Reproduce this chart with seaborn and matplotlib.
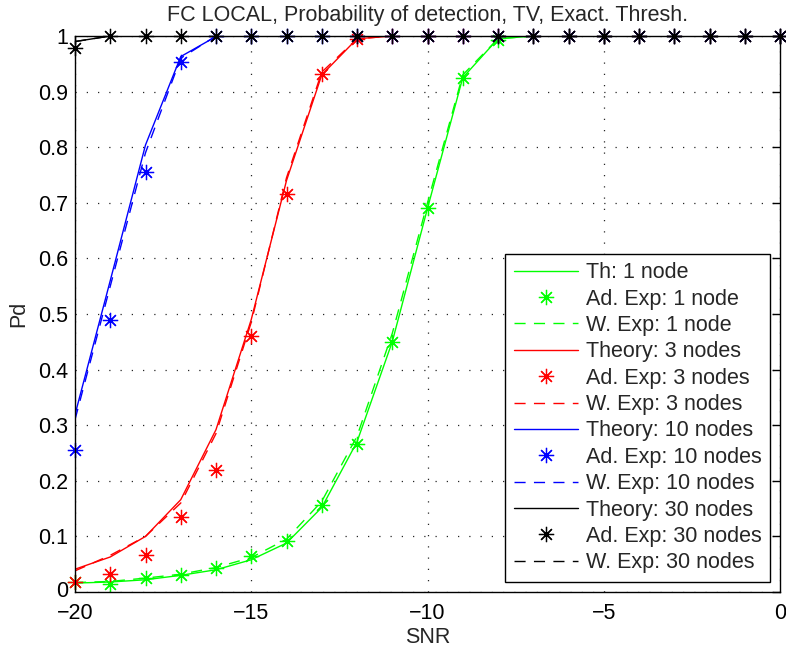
import matplotlib
matplotlib.use("Agg")
import matplotlib.pyplot as plt
import matplotlib.transforms as mtransforms
import seaborn as sns
import pandas as pd

snr = list(range(-20, 1))

th_1 = [0.016, 0.018, 0.022, 0.030, 0.040, 0.058, 0.088, 0.152, 0.270, 0.450, 0.690, 0.925, 0.995] + [1.0] * 8
ad_1 = [0.018, 0.015, 0.026, 0.031, 0.043, 0.065, 0.091, 0.156, 0.266, 0.449, 0.690, 0.925, 0.993] + [1.0] * 8
w_1 = [0.017, 0.019, 0.025, 0.032, 0.044, 0.062, 0.095, 0.163, 0.280, 0.465, 0.700, 0.930, 0.995] + [1.0] * 8

th_3 = [0.041, 0.063, 0.100, 0.166, 0.292, 0.490, 0.740, 0.930, 0.995] + [1.0] * 12
ad_3 = [0.018, 0.032, 0.066, 0.135, 0.219, 0.461, 0.716, 0.932, 0.995] + [1.0] * 12
w_3 = [0.038, 0.066, 0.100, 0.160, 0.285, 0.485, 0.745, 0.935, 0.995] + [1.0] * 12

th_10 = [0.319, 0.560, 0.804, 0.963, 0.999] + [1.0] * 16
ad_10 = [0.256, 0.489, 0.756, 0.954, 1.0] + [1.0] * 16
w_10 = [0.310, 0.550, 0.790, 0.960, 1.0] + [1.0] * 16

th_30 = [0.990] + [1.0] * 20
ad_30 = [0.978] + [1.0] * 20
w_30 = [0.990] + [1.0] * 20

groups = [
    ("Th: 1 node", "Ad. Exp: 1 node", "W. Exp: 1 node", th_1, ad_1, w_1, (0, 1, 0)),
    ("Theory: 3 nodes", "Ad. Exp: 3 nodes", "W. Exp: 3 nodes", th_3, ad_3, w_3, (1, 0, 0)),
    ("Theory: 10 nodes", "Ad. Exp: 10 nodes", "W. Exp: 10 nodes", th_10, ad_10, w_10, (0, 0, 1)),
    ("Theory: 30 nodes", "Ad. Exp: 30 nodes", "W. Exp: 30 nodes", th_30, ad_30, w_30, (0, 0, 0)),
]

sns.set_theme(style="white")
plt.rcParams["font.family"] = ["Liberation Sans", "DejaVu Sans"]
plt.rcParams["font.size"] = 15.5

fig = plt.figure(figsize=(7.86, 6.51), dpi=100)
ax = fig.add_axes([75 / 786, 1 - 592 / 651, 705 / 786, 556 / 651])

star = (8, 2, 0)
for lt, la, lw_, th, ad, w, col in groups:
    df = pd.DataFrame({"SNR": snr, "th": th, "ad": ad, "w": w})
    sns.lineplot(data=df, x="SNR", y="th", ax=ax, color=col, lw=1.0, label=lt,
                 estimator=None, sort=False)
    sns.lineplot(data=df, x="SNR", y="ad", ax=ax, color=col, linestyle="none",
                 marker=star, markersize=11, markeredgewidth=0.9,
                 markeredgecolor=col, label=la, estimator=None, sort=False,
                 clip_on=False, zorder=5)
    sns.lineplot(data=df, x="SNR", y="w", ax=ax, color=col, lw=1.0,
                 dashes=False, linestyle=(0, (8, 6)), label=lw_,
                 estimator=None, sort=False)

ax.set_xlim(-20, 0)
ax.set_ylim(0, 1)
ax.set_xticks([-20, -15, -10, -5, 0])
ax.set_xticklabels(["\u221220", "\u221215", "\u221210", "\u22125", "0"])
ax.set_yticks([i / 10 for i in range(11)])
ax.set_yticklabels(["0", "0.1", "0.2", "0.3", "0.4", "0.5", "0.6", "0.7", "0.8", "0.9", "1"])
ax.tick_params(direction="in", top=True, right=True, length=6, width=1,
               labelsize=15.5, colors="black")
ax.tick_params(axis="x", pad=8)
ax.tick_params(axis="y", pad=5)
# nudge the "0" y tick label up slightly so it does not collide with "-20"
lbl0 = ax.get_yticklabels()[0]
lbl0.set_transform(lbl0.get_transform() + mtransforms.ScaledTranslation(0, 3 / 100, fig.dpi_scale_trans))
ax.grid(True, linestyle=(0, (1, 8)), color="black", linewidth=0.9, alpha=0.85)
for s in ax.spines.values():
    s.set_color("black")
    s.set_linewidth(1.0)
    s.set_zorder(6)
ax.set_xlabel("SNR", fontsize=15.5, labelpad=2)
ax.set_ylabel("Pd", fontsize=15.5, labelpad=6)
ax.set_title("FC LOCAL, Probability of detection, TV, Exact. Thresh.", fontsize=15.5, pad=11)

leg = ax.legend(loc="lower right", bbox_to_anchor=(0.986, 0.018), borderaxespad=0,
                fontsize=15.5, frameon=True, fancybox=False, handlelength=3.0,
                handletextpad=0.35, labelspacing=0.25, borderpad=0.4)
leg.get_frame().set_edgecolor("black")
leg.get_frame().set_linewidth(1.0)
leg.get_frame().set_alpha(1.0)
leg.set_zorder(10)

fig.savefig("out.png", dpi=100)
